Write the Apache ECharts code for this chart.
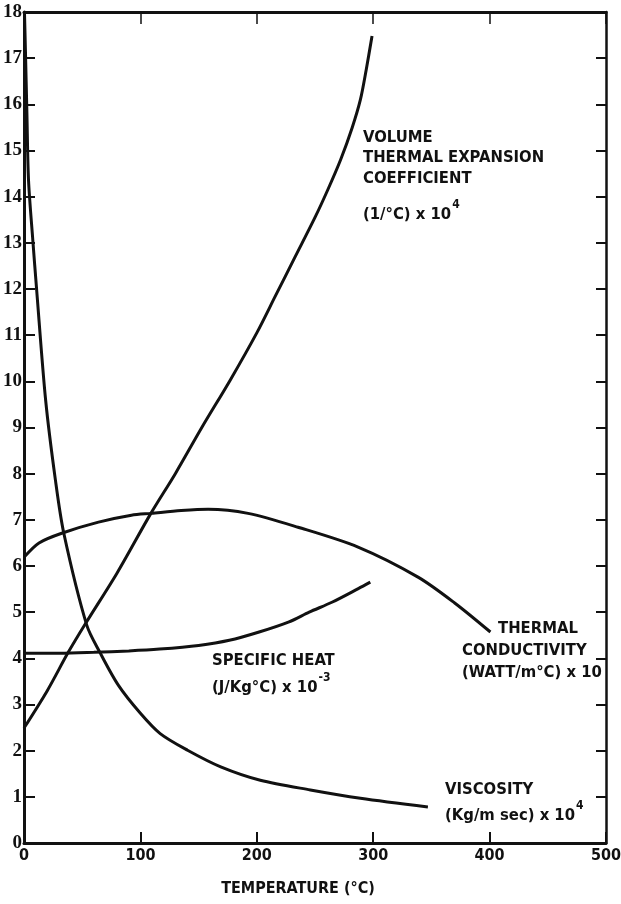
<!DOCTYPE html>
<html><head><meta charset="utf-8">
<script src="https://cdn.jsdelivr.net/npm/echarts@6.0.0/dist/echarts.min.js"></script>
<style>html,body{margin:0;padding:0;background:#fff;overflow:hidden}#c{width:621px;height:904px}</style>
</head><body><div id="c"></div>
<script>
// ---- data ----
const xTickLabels = ['0','100','200','300','400','500'];
const yTickLabels = ['0','1','2','3','4','5','6','7','8','9','10','11','12','13','14','15','16','17','18'];

const expansionT = [0, 20, 38, 53, 80, 109, 130, 153, 177, 200, 216, 233, 250, 261, 272, 282, 289, 294, 299];
const expansionV = [2.49, 3.3, 4.13, 4.76, 5.85, 7.14, 8.0, 9.01, 10.02, 11.05, 11.85, 12.7, 13.55, 14.15, 14.8, 15.5, 16.1, 16.75, 17.48];

const viscosityT = [0.4, 1.2, 2.5, 3.9, 7.6, 10.9, 18.6, 27, 34.2, 53.9, 65.2, 81, 100, 117, 140.5, 169, 203, 246, 289, 347];
const viscosityV = [18, 17.2, 15.8, 14.35, 13.05, 11.97, 9.59, 7.86, 6.71, 4.72, 4.13, 3.42, 2.81, 2.37, 2.01, 1.65, 1.36, 1.15, 0.97, 0.78];

const conductivityT = [0, 12.9, 32.4, 64, 92.3, 109.4, 135, 158.2, 192.5, 235.4, 287, 338.5, 370, 400.7];
const conductivityV = [6.19, 6.5, 6.71, 6.95, 7.1, 7.14, 7.2, 7.23, 7.14, 6.84, 6.41, 5.76, 5.2, 4.57];

const specHeatT = [0, 31, 60, 90, 116.5, 150, 176.4, 202, 227.7, 245, 265, 287.2, 297.5];
const specHeatV = [4.11, 4.11, 4.13, 4.16, 4.2, 4.28, 4.39, 4.57, 4.79, 5.0, 5.22, 5.51, 5.65];

// ---- chart ----
const INK = '#111';
const NARROW = "'Liberation Sans Narrow', 'DejaVu Sans Condensed', 'Liberation Sans', sans-serif";
const annFont = "bold 16.5px " + NARROW;
const supFont = "bold 12px " + NARROW;

const mctx = document.createElement('canvas').getContext('2d');
function textWidth(text, font) { mctx.font = font; return mctx.measureText(text).width; }

function pairs(t, v) { return t.map((x, i) => [x, v[i]]); }
function lineSeries(name, t, v) {
  return {
    name, type: 'line', data: pairs(t, v), smooth: 0.3,
    symbol: 'none', lineStyle: { color: INK, width: 3 }, silent: true, z: 3
  };
}
function txt(x, y, text, font, align) {
  return { type: 'text', x, y, silent: true, z: 10,
    style: { text, font: font || annFont, fill: INK, textAlign: align || 'left', textVerticalAlign: 'middle' } };
}
// base text followed by a raised superscript
function supTxt(x, y, base, sup) {
  const w = textWidth(base, annFont);
  return [txt(x, y, base), txt(x + w + 1, y - 10, sup, supFont)];
}

const chart = echarts.init(document.getElementById('c'), null, { renderer: 'canvas', width: 621, height: 904 });
chart.setOption({
  animation: false,
  backgroundColor: '#fff',
  grid: { left: 24, right: 15, top: 12, bottom: 61, containLabel: false, outerBoundsMode: 'none' },
  xAxis: [
    { type: 'value', position: 'bottom', min: 0, max: 500, interval: 100,
      axisLine: { onZero: false, lineStyle: { color: INK, width: 3 } },
      axisTick: { inside: true, length: 11, lineStyle: { color: INK, width: 2 } },
      axisLabel: { color: INK, fontFamily: NARROW, fontWeight: 'bold', fontSize: 16, margin: 5,
        formatter: (v) => xTickLabels[Math.round(v / 100)] },
      splitLine: { show: false } },
    { type: 'value', position: 'top', min: 0, max: 500, interval: 100,
      axisLine: { onZero: false, lineStyle: { color: INK, width: 3 } },
      axisTick: { inside: true, length: 12, lineStyle: { color: INK, width: 1.5 } },
      axisLabel: { show: false }, splitLine: { show: false } }
  ],
  yAxis: [
    { type: 'value', position: 'left', min: 0, max: 18, interval: 1,
      axisLine: { onZero: false, lineStyle: { color: INK, width: 3 } },
      axisTick: { inside: true, length: 11, lineStyle: { color: INK, width: 2 } },
      axisLabel: { color: INK, fontFamily: "'Liberation Serif', serif", fontWeight: 'bold', fontSize: 19, margin: 2,
        formatter: (v) => yTickLabels[Math.round(v)] },
      splitLine: { show: false } },
    { type: 'value', position: 'right', min: 0, max: 18, interval: 1,
      axisLine: { onZero: false, lineStyle: { color: INK, width: 2.5 } },
      axisTick: { inside: true, length: 10, lineStyle: { color: INK, width: 2 } },
      axisLabel: { show: false }, splitLine: { show: false } }
  ],
  series: [
    lineSeries('Volume thermal expansion coefficient', expansionT, expansionV),
    lineSeries('Viscosity', viscosityT, viscosityV),
    lineSeries('Thermal conductivity', conductivityT, conductivityV),
    lineSeries('Specific heat', specHeatT, specHeatV)
  ],
  graphic: [
    txt(363, 138, 'VOLUME'),
    txt(363, 158, 'THERMAL EXPANSION'),
    txt(363, 179, 'COEFFICIENT'),
    ...supTxt(363, 215, '(1/°C) x 10', '4'),

    txt(212, 661, 'SPECIFIC HEAT'),
    ...supTxt(212, 688, '(J/Kg°C) x 10', '-3'),

    txt(498, 629, 'THERMAL'),
    txt(462, 651, 'CONDUCTIVITY'),
    txt(462, 673, '(WATT/m°C) x 10'),

    txt(445, 790, 'VISCOSITY'),
    ...supTxt(445, 816, '(Kg/m sec) x 10', '4'),

    txt(298, 889, 'TEMPERATURE (°C)', "bold 16px " + NARROW, 'center')
  ]
});
</script>
</body></html>
